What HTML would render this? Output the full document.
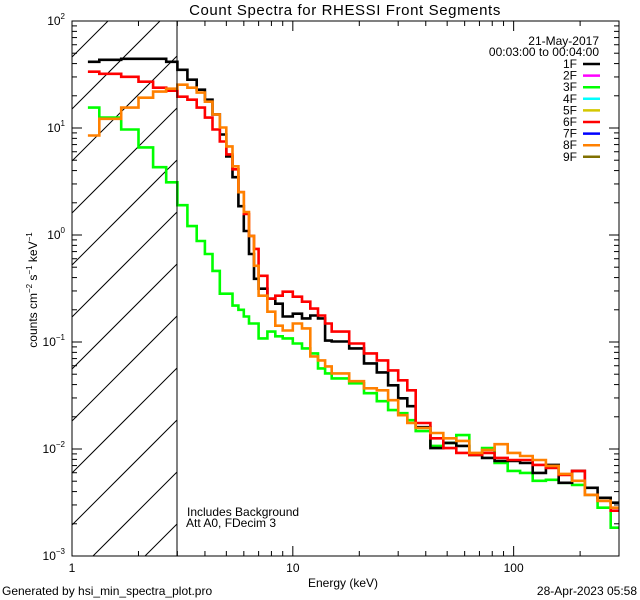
<!DOCTYPE html>
<html><head><meta charset="utf-8"><style>
html,body{margin:0;padding:0;background:#fff;width:640px;height:600px;overflow:hidden;}
svg{display:block;font-family:"Liberation Sans",sans-serif;}
</style></head><body>
<svg id="chart" width="640" height="600" viewBox="0 0 640 600" xmlns="http://www.w3.org/2000/svg">
<defs>
<clipPath id="pclip"><rect x="72" y="21" width="547" height="535"/></clipPath>
</defs>
<rect x="0" y="0" width="640" height="600" fill="#fff"/>
<text x="345" y="15" font-size="15" letter-spacing="0.6" text-anchor="middle">Count Spectra for RHESSI Front Segments</text>
<g id="hatch"></g>
<g id="series" clip-path="url(#pclip)"></g>
<g id="axes"></g>
<line x1="177" y1="21" x2="177" y2="556" stroke="#000" stroke-width="1"/>
<text transform="translate(37,290) rotate(-90)" font-size="12" text-anchor="middle">counts cm<tspan font-size="8" dy="-5">−2</tspan><tspan dy="5"> s</tspan><tspan font-size="8" dy="-5">−1</tspan><tspan dy="5"> keV</tspan><tspan font-size="8" dy="-5">−1</tspan></text>
<text x="343" y="587" font-size="12" text-anchor="middle">Energy (keV)</text>
<text x="2" y="595" font-size="12">Generated by hsi_min_spectra_plot.pro</text>
<text x="637" y="595" font-size="12" text-anchor="end">28-Apr-2023 05:58</text>
<text x="187" y="516" font-size="12">Includes Background</text>
<text x="186" y="527" font-size="12">Att A0, FDecim 3</text>
<text x="599" y="45" font-size="12" text-anchor="end">21-May-2017</text>
<text x="599" y="56" font-size="12" text-anchor="end">00:03:00 to 00:04:00</text>
<g id="legend"></g>
</svg>
<script>
const edges=[1.18,1.33,1.67,2,2.33,2.67,3,3.33,3.67,4,4.33,4.67,5,5.33,5.67,6,6.33,6.67,7,7.67,8.33,9,10,11,12,13,14,15,18,21,24,27,30,33,36,42,48,55,63,72,82,94,107,122,140,160,184,210,240,275,300];
const seg1F=[41.6,43.4,44.3,44.3,44.3,41.6,35,28.3,22.8,18.4,13.4,8.7,5.43,3.47,1.86,1.09,0.665,0.39,0.315,0.254,0.228,0.173,0.184,0.166,0.177,0.166,0.103,0.101,0.0871,0.0631,0.052,0.0394,0.0298,0.0251,0.016,0.0102,0.0114,0.0107,0.0088,0.00825,0.00773,0.00773,0.0074,0.00598,0.0071,0.00483,0.00624,0.00434,0.0035,0.00315];
const seg3F=[15.5,12.5,9.68,6.59,4.3,3.11,1.9,1.21,0.879,0.665,0.462,0.283,0.283,0.219,0.2,0.173,0.149,0.149,0.108,0.125,0.113,0.108,0.0968,0.0871,0.0782,0.0567,0.0509,0.0457,0.0411,0.0332,0.028,0.0231,0.0216,0.0186,0.0147,0.0107,0.0114,0.0135,0.0088,0.0102,0.0074,0.00624,0.00598,0.00504,0.00515,0.00483,0.00462,0.00373,0.00283,0.00184];
const seg6F=[33.6,32.1,30.1,27.1,23.8,22.3,19.6,18.4,15.5,12.5,9.68,7.48,5.66,4.11,2.51,1.57,0.98,0.741,0.416,0.254,0.271,0.295,0.265,0.238,0.205,0.177,0.149,0.125,0.0968,0.0782,0.0673,0.0543,0.0439,0.0354,0.0175,0.0126,0.0102,0.0092,0.0088,0.0092,0.00825,0.0079,0.0079,0.0071,0.00666,0.00573,0.00624,0.00373,0.00328,0.00265];
const seg8F=[8.51,12.2,15.5,19.2,21.9,23.3,25.4,23.8,21.4,17.6,13.4,10.1,6.73,4.39,2.51,1.64,0.98,0.515,0.271,0.192,0.142,0.128,0.149,0.134,0.0733,0.0673,0.0592,0.0509,0.043,0.0369,0.0354,0.0286,0.0207,0.0175,0.0157,0.0141,0.0126,0.0119,0.0092,0.0098,0.0111,0.0092,0.0086,0.0079,0.00695,0.00585,0.00504,0.00373,0.00328,0.00283];
const legendLabels=["1F","2F","3F","4F","5F","6F","7F","8F","9F"];
const legendColors=["#000000","#ff00ff","#00ff00","#00ffff","#d4c800","#ff0000","#0000ff","#ff8000","#807000"];
const yTickExps=[2,1,0,-1,-2,-3];
const xTickLabels=["1","10","100"];
const xTickValues=[1,10,100];

const X0=72,X1=619,Y0=21,Y1=556,XH=177;
const xMin=1,xMax=300,yMin=1e-3,yMax=100;
const NS="http://www.w3.org/2000/svg";
function sx(v){return X0+(Math.log10(v)-Math.log10(xMin))/(Math.log10(xMax)-Math.log10(xMin))*(X1-X0);}
function sy(v){return Y1-(Math.log10(v)-Math.log10(yMin))/(Math.log10(yMax)-Math.log10(yMin))*(Y1-Y0);}
function mk(tag,attrs,parent){const e=document.createElementNS(NS,tag);for(const k in attrs)e.setAttribute(k,attrs[k]);parent.appendChild(e);return e;}

// hatch lines (y = c - (x - X0)), clipped manually to [X0,XH]x[Y0,Y1]
const hatch=document.getElementById('hatch');
for(let c=5;c<=700;c+=52){
  let xa=X0, ya=c;
  if(ya>Y1){xa=X0+(ya-Y1);ya=Y1;}
  let xb=XH, yb=c-(XH-X0);
  if(yb<Y0){xb=X0+(c-Y0);yb=Y0;}
  if(xa>=xb||ya<Y0)continue;
  const l=mk('line',{x1:xa,y1:ya,x2:xb,y2:yb,stroke:'#000','stroke-width':1},hatch);
  
  
}

const sg=document.getElementById('series');
function drawSeries(vals,color,name){
  let d='';
  for(let i=0;i<vals.length;i++){
    const xa=sx(edges[i]),xb=Math.min(sx(edges[i+1]),X1),y=sy(vals[i]);
    d+=(i===0?'M':'L')+xa.toFixed(1)+','+y.toFixed(1)+'L'+xb.toFixed(1)+','+y.toFixed(1);
  }
  const p=mk('path',{d:d,fill:'none',stroke:color,'stroke-width':2.6},sg);
  
  
}
drawSeries(seg3F,'#00ff00','series-3f');
drawSeries(seg1F,'#000000','series-1f');
drawSeries(seg6F,'#ff0000','series-6f');
drawSeries(seg8F,'#ff8000','series-8f');

const ax=document.getElementById('axes');
const frame=mk('rect',{x:X0,y:Y0,width:X1-X0,height:Y1-Y0,fill:'none',stroke:'#000','stroke-width':1},ax);


for(let e=-3;e<=2;e++){
  for(let m=1;m<=9;m++){
    const v=m*Math.pow(10,e); if(v>yMax+1e-9)continue;
    const y=sy(v), len=m===1?10:5;
    const t1=mk('line',{x1:X0,y1:y,x2:X0+len,y2:y,stroke:'#000','stroke-width':1},ax);
    
    
    const t2=mk('line',{x1:X1,y1:y,x2:X1-len,y2:y,stroke:'#000','stroke-width':1},ax);
    
    
  }
}
for(let e=0;e<=2;e++){
  for(let m=1;m<=9;m++){
    const v=m*Math.pow(10,e); if(v>xMax)continue;
    const x=sx(v), len=m===1?10:5;
    const t1=mk('line',{x1:x,y1:Y1,x2:x,y2:Y1-len,stroke:'#000','stroke-width':1},ax);
    
    
    const t2=mk('line',{x1:x,y1:Y0,x2:x,y2:Y0+len,stroke:'#000','stroke-width':1},ax);
    
    
  }
}
yTickExps.forEach(e=>{
  const y=sy(Math.pow(10,e));
  const t=mk('text',{x:X0-7,y:y+4,'font-size':12,'text-anchor':'end'},ax);
  
  
  t.textContent='10';
  const s=mk('tspan',{'font-size':8,dy:-6},t); s.textContent=e<0?'−'+(-e):String(e);
});
xTickValues.forEach((v,i)=>{
  const t=mk('text',{x:sx(v),y:572,'font-size':12,'text-anchor':'middle'},ax);
  
  
  t.textContent=xTickLabels[i];
});

const lg=document.getElementById('legend');
legendLabels.forEach((lab,i)=>{
  const y=68+i*11.6;
  const g=mk('g',{},lg);
  
  
  const t=mk('text',{x:577,y:y,'font-size':12,'text-anchor':'end'},g);
  t.textContent=lab;
  mk('line',{x1:583,y1:y-4,x2:600,y2:y-4,stroke:legendColors[i],'stroke-width':2.5},g);
});
</script>
</body></html>
